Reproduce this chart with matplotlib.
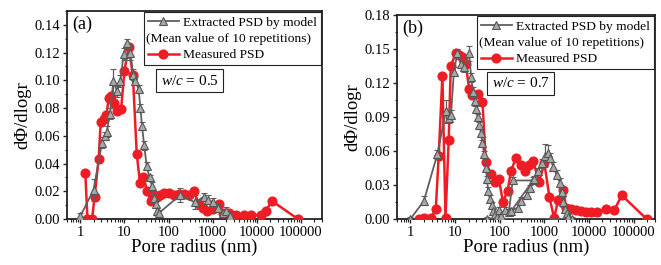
import matplotlib
matplotlib.use("Agg")
import matplotlib.pyplot as plt
from matplotlib.lines import Line2D
from matplotlib.ticker import MultipleLocator, LogLocator, NullFormatter

# ---- (a) w/c = 0.5 ----
r_meas_a = [1.3, 1.45, 1.85, 2.1, 2.6, 2.9, 3.5, 3.9, 4.4, 5.0, 5.7, 6.8, 8.4, 10, 12.5,
            15.5, 19, 22.5, 27, 33, 40, 46, 55, 65, 80, 100, 130, 170, 220, 290, 380,
            480, 600, 750, 1000, 1400, 1700, 2400, 3400, 5000, 7500, 12500, 16000, 22000, 85000]
v_meas_a = [0.033, 0.0, 0.0, 0.016, 0.043, 0.070, 0.072, 0.075, 0.087, 0.089, 0.084, 0.078,
            0.079, 0.107, 0.124, 0.104, 0.047, 0.026, 0.030, 0.020, 0.013, 0.017, 0.016,
            0.017, 0.019, 0.019, 0.017, 0.018, 0.018, 0.017, 0.020, 0.011, 0.008, 0.006,
            0.007, 0.011, 0.004, 0.004, 0.003, 0.003, 0.003, 0.003, 0.006, 0.013, 0.0]
r_mod_a = [1.0, 2.0, 3.1, 3.6, 4.0, 4.7, 5.6, 6.8, 8.1, 9.6, 11.4, 13.6, 15.6, 17.6, 21, 23,
           25, 28, 32, 37, 42, 47, 52, 56, 62, 180, 400, 620, 800, 1000, 1330, 1730, 2040, 2450]
v_mod_a = [0.002, 0.021, 0.055, 0.060, 0.063, 0.076, 0.0995, 0.092, 0.0995, 0.119, 0.127,
           0.120, 0.104, 0.0995, 0.0935, 0.080, 0.067, 0.053, 0.038, 0.030, 0.024, 0.015,
           0.0106, 0.006, 0.0046, 0.017, 0.012, 0.016, 0.014, 0.012, 0.008, 0.0046, 0.0058, 0.002]
e_mod_a = [0.002, 0.008, 0.004, 0.003, 0.004, 0.004, 0.009, 0.004, 0.004, 0.004, 0.003,
           0.005, 0.004, 0.003, 0.003, 0.003, 0.003, 0.003, 0.003, 0.002, 0.003, 0.003,
           0.003, 0.003, 0.002, 0.005, 0.005, 0.003, 0.003, 0.003, 0.003, 0.002, 0.003, 0.002]

# ---- (b) w/c = 0.7 ----
r_meas_b = [1.57, 2.0, 2.9, 3.7, 4.3, 5.2, 6.1, 7.2, 8.0, 10.3, 12.3, 14.6, 17.3, 20.6, 24.5,
            32, 41, 49, 63, 80, 96, 118, 150, 178, 230, 300, 360, 460, 560, 760, 1000,
            1300, 1650, 2050, 2600, 3100, 4000, 5200, 6700, 8700, 11300, 14700, 24500,
            37000, 54000, 195000]
v_meas_b = [0.0, 0.0006, 0.0006, 0.009, 0.056, 0.126, 0.001, 0.070, 0.135, 0.146, 0.145,
            0.143, 0.137, 0.115, 0.109, 0.110, 0.1035, 0.050, 0.040, 0.033, 0.035, 0.015,
            0.025, 0.042, 0.054, 0.048, 0.042, 0.048, 0.051, 0.033, 0.049, 0.019, 0.001,
            0.017, 0.026, 0.010, 0.009, 0.008, 0.007, 0.006, 0.006, 0.006, 0.009, 0.008,
            0.021, 0.0]
r_mod_b = [1.0, 2.0, 4.0, 6.2, 7.4, 8.1, 9.4, 11.2, 13.4, 15.9, 20.5, 23, 25, 28, 30, 32,
           35, 38, 41, 45, 49, 52, 55, 60, 66, 72, 78, 85, 95, 105, 130, 160, 195, 560,
           180, 250, 300, 400, 470, 600, 720, 870, 1020, 1230, 1330, 1580, 1870, 2230,
           2450, 2650, 2900, 3150, 3450, 4100, 53]
v_mod_b = [0.0, 0.016, 0.057, 0.095, 0.089, 0.092, 0.130, 0.146, 0.137, 0.134, 0.146,
           0.125, 0.112, 0.104, 0.097, 0.090, 0.083, 0.076, 0.067, 0.057, 0.045, 0.035,
           0.025, 0.018, 0.012, 0.007, 0.004, 0.002, 0.008, 0.003, 0.008, 0.006, 0.034,
           0.034, 0.007, 0.010, 0.016, 0.021, 0.027, 0.035, 0.042, 0.049, 0.056, 0.058,
           0.054, 0.046, 0.039, 0.032, 0.024, 0.015, 0.009, 0.005, 0.002, 0.0, 0.0]
e_mod_b = [0.002, 0.004, 0.004, 0.010, 0.004, 0.004, 0.004, 0.004, 0.004, 0.004, 0.007,
           0.004, 0.004, 0.004, 0.003, 0.003, 0.003, 0.003, 0.003, 0.003, 0.003, 0.003,
           0.003, 0.003, 0.003, 0.003, 0.003, 0.003, 0.003, 0.003, 0.003, 0.003, 0.003,
           0.003, 0.003, 0.003, 0.003, 0.003, 0.003, 0.003, 0.003, 0.004, 0.010, 0.007,
           0.004, 0.004, 0.004, 0.004, 0.004, 0.004, 0.003, 0.003, 0.002, 0.002, 0.002]

xticks = [1, 10, 100, 1000, 10000, 100000]
xtick_labels = ["1", "10", "100", "1000", "10000", "100000"]

plt.rcParams['font.family'] = ['Liberation Serif', 'DejaVu Serif']
plt.rcParams['mathtext.fontset'] = 'custom'
plt.rcParams['mathtext.rm'] = 'Liberation Serif'
plt.rcParams['mathtext.it'] = 'Liberation Serif:italic'

RED = '#ee1c25'
GRAY_LINE = '#5f5f5f'
GRAY_FILL = '#a8a8a8'
GRAY_EDGE = '#555555'
LEG_FS = 9.7

fig = plt.figure(figsize=(6.61, 2.65), dpi=100)
ax_a = fig.add_axes([0.1014, 0.1736, 0.3858, 0.785])
ax_b = fig.add_axes([0.6006, 0.1736, 0.3903, 0.770])


def draw_panel(ax, r_meas, v_meas, r_mod, v_mod, e_mod, ymax, ystep, tag, wc):
    ax.plot(r_meas, v_meas, '-o', color=RED, lw=1.8, ms=6.3, mfc=RED, mec=RED, zorder=3)
    ax.errorbar(r_mod, v_mod, yerr=e_mod, fmt='-^', color=GRAY_LINE, lw=1.3, ms=5.2,
                mfc=GRAY_FILL, mec=GRAY_EDGE, mew=0.8, ecolor=GRAY_LINE,
                elinewidth=0.9, capsize=2, capthick=0.9, zorder=4)
    ax.set_xscale('log')
    ax.set_xlim(0.5, 3e5)
    ax.set_ylim(0, ymax)
    ax.set_xticks(xticks)
    ax.set_xticklabels(xtick_labels)
    ax.xaxis.set_minor_locator(LogLocator(base=10, subs=range(2, 10), numticks=20))
    ax.xaxis.set_minor_formatter(NullFormatter())
    ax.yaxis.set_major_locator(MultipleLocator(ystep))
    ax.yaxis.set_minor_locator(MultipleLocator(ystep / 2))
    ax.yaxis.set_major_formatter(plt.FormatStrFormatter('%.2f'))
    ax.tick_params(which='major', direction='out', length=3, width=1, labelsize=10.5, pad=2,
                   color='#222222')
    ax.tick_params(which='minor', direction='out', length=1.8, width=0.8, color='#222222')
    for sp in ax.spines.values():
        sp.set_linewidth(1.3)
        sp.set_color('#222222')
    ax.set_xlabel('Pore radius (nm)', fontsize=13.5, labelpad=0)
    ax.set_ylabel('d\u03a6/dlogr', fontsize=13.5, labelpad=2)
    ax.text(0.02, 0.975, tag, transform=ax.transAxes, ha='left', va='top', fontsize=13)
    ax.text(0.48, 0.665, r'$w/c$ = ' + wc, transform=ax.transAxes, ha='center',
            va='center', fontsize=11,
            bbox=dict(boxstyle='square,pad=0.3', fc='white', ec='#222222', lw=0.8))

    h_mod = Line2D([], [], color=GRAY_LINE, lw=1.3, marker='^', ms=5.2, mfc=GRAY_FILL,
                   mec=GRAY_EDGE, mew=0.8)
    h_meas = Line2D([], [], color=RED, lw=1.8, marker='o', ms=6.3, mfc=RED, mec=RED)
    leg = ax.legend([h_mod, h_meas], ['Extracted PSD by model', 'Measured PSD'],
                    loc='upper right', fontsize=LEG_FS, frameon=True, fancybox=False,
                    edgecolor='#222222', framealpha=1, borderaxespad=0.1,
                    borderpad=0.3, handlelength=2.3, handletextpad=0.3,
                    labelspacing=1.5, numpoints=1)
    leg.get_frame().set_linewidth(0.8)
    return leg


leg_a = draw_panel(ax_a, r_meas_a, v_meas_a, r_mod_a, v_mod_a, e_mod_a, 0.15, 0.02, '(a)', '0.5')
leg_b = draw_panel(ax_b, r_meas_b, v_meas_b, r_mod_b, v_mod_b, e_mod_b, 0.18, 0.03, '(b)', '0.7')

# second legend line, placed between the two legend rows
fig.canvas.draw()
W, H = fig.bbox.width, fig.bbox.height
for leg in (leg_a, leg_b):
    frame = leg.get_frame().get_window_extent()
    t0, t1 = [t.get_window_extent() for t in leg.get_texts()]
    ymid = (t0.y0 + t0.y1 + t1.y0 + t1.y1) / 4
    fig.text((frame.x0 + 2) / W, ymid / H, '(Mean value of 10 repetitions)',
             ha='left', va='center', fontsize=LEG_FS)

fig.savefig('out.png', dpi=100)
